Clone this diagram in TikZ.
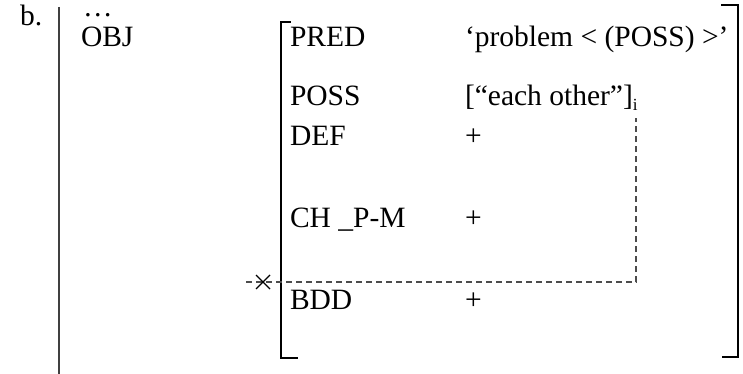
\documentclass[tikz,border=0pt]{standalone}
\usepackage{fontspec}
\setmainfont{Liberation Serif}
\begin{document}
\begin{tikzpicture}[x=1pt,y=-1pt,
  every node/.style={inner sep=0pt, outer sep=0pt, anchor=base west, font=\fontsize{29.5}{35}\selectfont},
  brk/.style={line width=1.4pt, line cap=rect},
  rule/.style={line width=1.5pt, draw=black!75},
  dsh/.style={dash pattern=on 6pt off 4pt, line width=1.3pt, draw=black!70},
  xmark/.style={line width=1.1pt}]
\useasboundingbox (0,0) rectangle (743,374);
\node (lbl) at (20,26) {b.};
\coordinate (rtop) at (59,7);
\coordinate (rbot) at (59,374);
\draw[rule] (rtop) -- (rbot);
\node[text height=4pt] (dots) at (83,17) {…};
\node (obj) at (81,47) {OBJ};
\node (pred) at (290,47) {PRED};
\node (predv) at (465,47) {‘problem < (POSS) >’};
\node (poss) at (290,106) {POSS};
\node (possv) at (465,106) {[“each other”]{\fontsize{17}{17}\selectfont\raisebox{-5pt}{i}}};
\node (def) at (290,146) {DEF};
\node (defv) at (465,146) {+};
\node (ch) at (290,227) {CH \_P-M};
\node (chv) at (465,227) {+};
\node (bdd) at (290,309) {BDD};
\node (bddv) at (465,309) {+};
% brackets
\coordinate (lb1) at (290,22);
\coordinate (lb2) at (281,22);
\coordinate (lb3) at (281,358);
\coordinate (lb4) at (297,358);
\draw[brk] (lb1) -- (lb2) -- (lb3) -- (lb4);
\coordinate (rb1) at (722,5);
\coordinate (rb2) at (738,5);
\coordinate (rb3) at (738,357);
\coordinate (rb4) at (723,357);
\draw[brk] (rb1) -- (rb2) -- (rb3) -- (rb4);
% dashed binding line
\coordinate (dstart) at (246,282);
\coordinate (dcorner) at (636,282);
\coordinate (dend) at (636,118);
\draw[dsh] (dstart) -- (dcorner) -- (dend);
% cross
\coordinate (xa) at (256,275);
\coordinate (xb) at (270,289);
\coordinate (xc) at (256,289);
\coordinate (xd) at (270,275);
\draw[xmark] (xa) -- (xb) (xc) -- (xd);
\end{tikzpicture}
\end{document}
